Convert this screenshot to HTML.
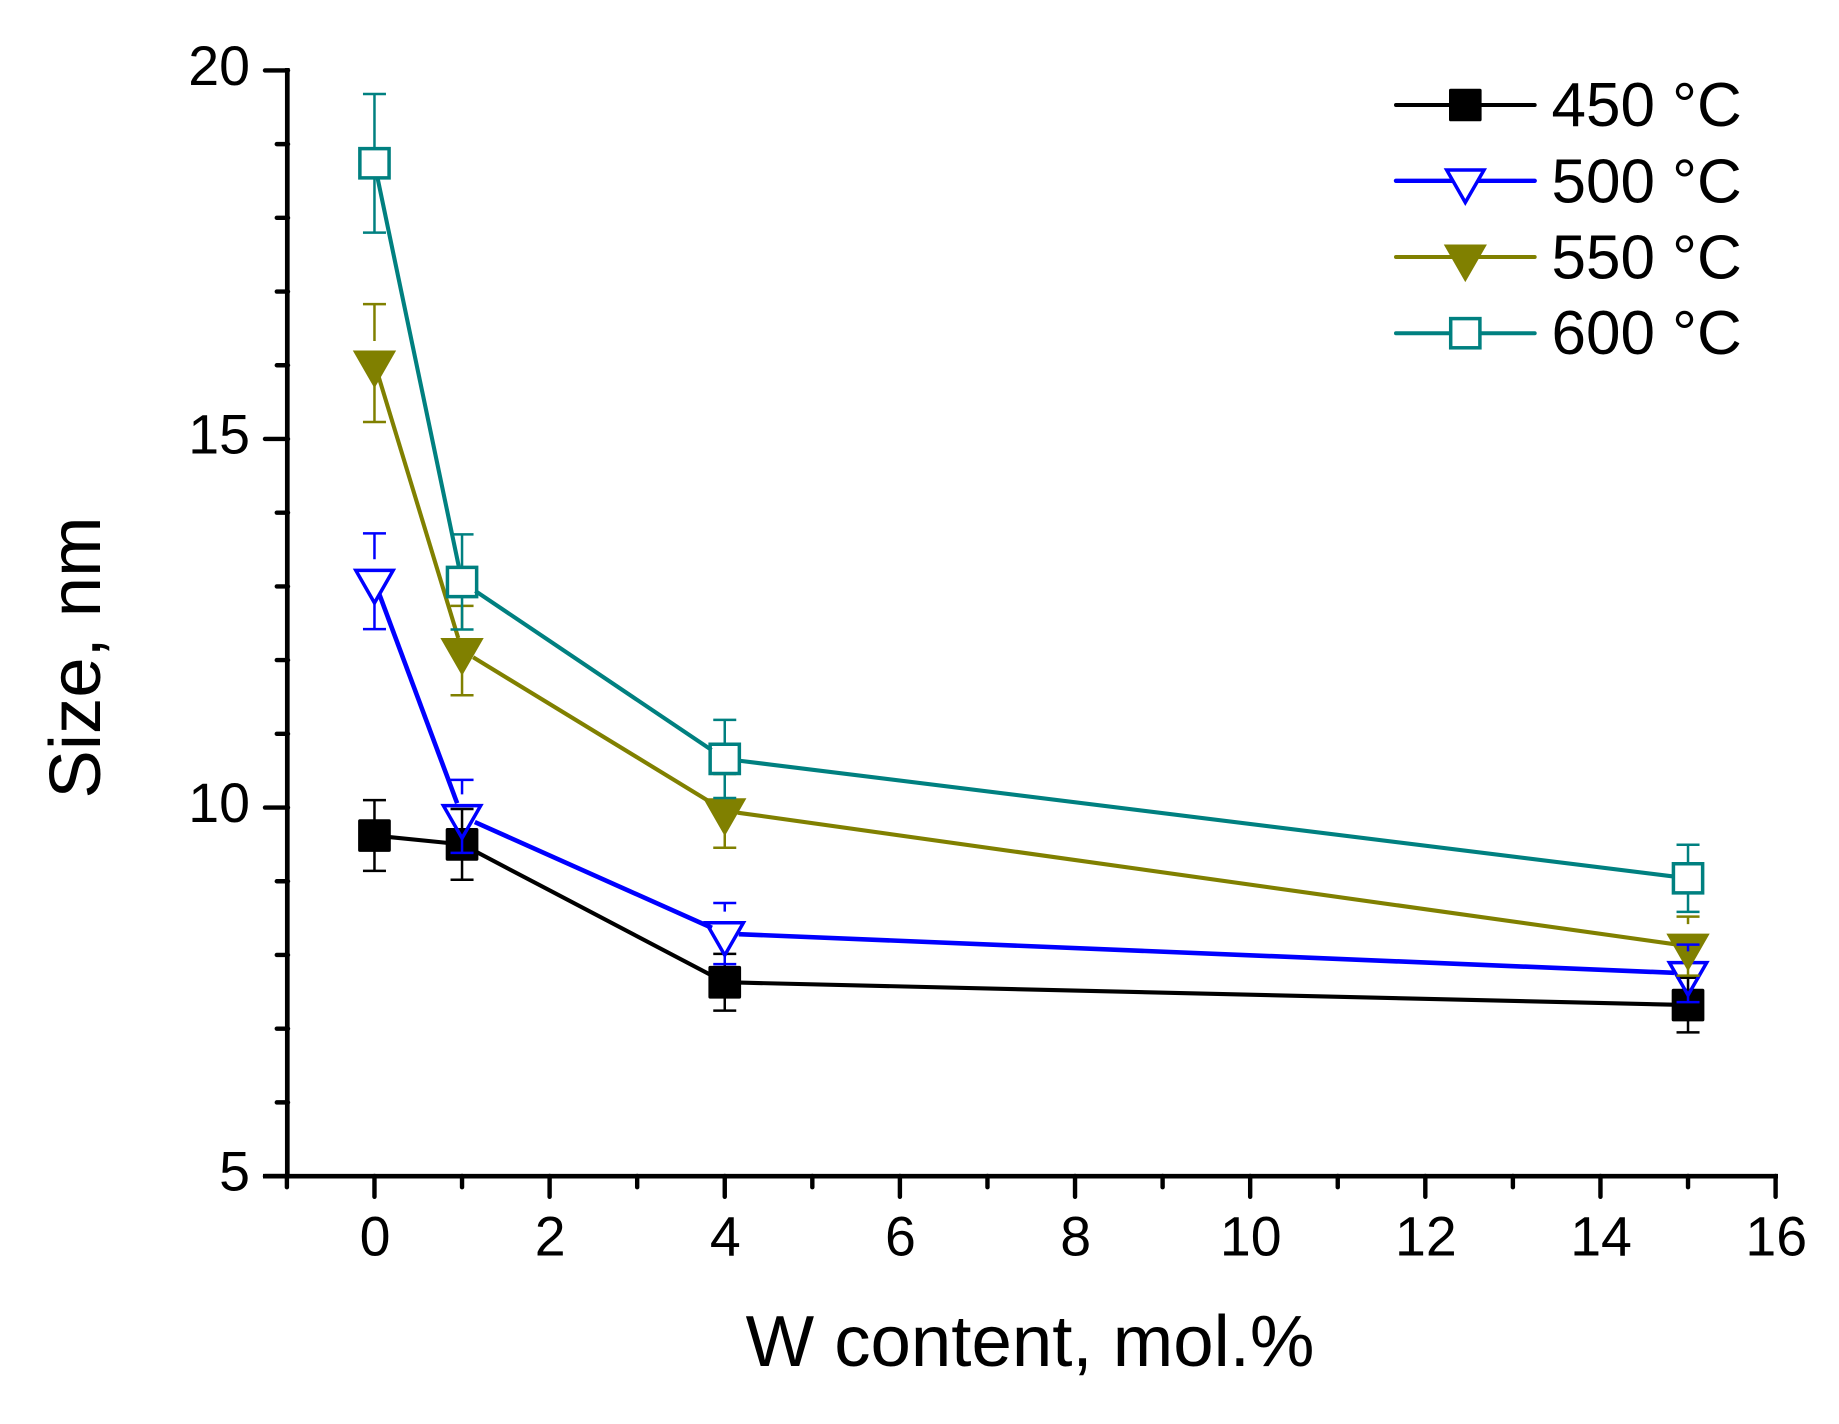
<!DOCTYPE html>
<html lang="en">
<head>
<meta charset="utf-8">
<title>Size vs W content</title>
<style>
html,body{margin:0;padding:0;background:#fff;width:1839px;height:1424px;overflow:hidden}
svg{display:block}
text{font-family:"Liberation Sans",Arial,sans-serif;fill:#000}
</style>
</head>
<body>
<svg id="chart" xmlns="http://www.w3.org/2000/svg" width="1839" height="1424" viewBox="0 0 1839 1424">
  <rect x="0" y="0" width="1839" height="1424" fill="#fff"/>
  <g id="series-layer"></g>
  <g id="overlay-layer"></g>
  <g id="axes-layer"></g>
  <text transform="translate(100,657.5) rotate(-90)" font-size="72.5" text-anchor="middle">Size, nm</text>
  <text x="1030" y="1366" font-size="72.6" text-anchor="middle">W content, mol.%</text>
  <g>
    <g>
      <line x1="1396" x2="1534.7" y1="105" y2="105" stroke="#000" stroke-width="4" stroke-linecap="round"/>
      <rect x="1450.7" y="90.4" width="29.2" height="29.2" fill="#000" stroke="#000" stroke-width="3.4" stroke-linejoin="round"/>
      <text x="1551.5" y="126" font-size="62">450 °C</text>
    </g>
    <g>
      <line x1="1396" x2="1534.7" y1="180.8" y2="180.8" stroke="#00f" stroke-width="4.4" stroke-linecap="round"/>
      <path d="M1446.7 170 L1484 170 L1465.3 202.5 Z" fill="#fff" stroke="#00f" stroke-width="3.5"/>
      <text x="1551.5" y="202.5" font-size="62">500 °C</text>
    </g>
    <g>
      <line x1="1396" x2="1534.7" y1="257" y2="257" stroke="#808000" stroke-width="4" stroke-linecap="round"/>
      <path d="M1446.7 246.2 L1484 246.2 L1465.3 278.7 Z" fill="#808000" stroke="#808000" stroke-width="3.4"/>
      <text x="1551.5" y="278.4" font-size="62">550 °C</text>
    </g>
    <g>
      <line x1="1396" x2="1534.7" y1="333.2" y2="333.2" stroke="#008080" stroke-width="4" stroke-linecap="round"/>
      <rect x="1450.7" y="318.6" width="29.2" height="29.2" fill="#fff" stroke="#008080" stroke-width="3.5"/>
      <text x="1551.5" y="354.2" font-size="62">600 °C</text>
    </g>
  </g>
</svg>
<script>
const xValues = [0, 1, 4, 15];
const size450 = [9.62, 9.50, 7.63, 7.32];
const err450 = [0.48, 0.48, 0.385, 0.37];
const size500 = [13.07, 9.88, 8.29, 7.75];
const err500 = [0.65, 0.495, 0.415, 0.39];
const size550 = [16.03, 12.13, 9.955, 8.12];
const err550 = [0.80, 0.606, 0.50, 0.40];
const size600 = [18.74, 13.06, 10.66, 9.04];
const err600 = [0.94, 0.645, 0.53, 0.455];
const xMajorTicks = [0, 2, 4, 6, 8, 10, 12, 14, 16];
const xMinorTicks = [-1, 1, 3, 5, 7, 9, 11, 13, 15];
const yMajorTicks = [5, 10, 15, 20];
const yMinorTicks = [6, 7, 8, 9, 11, 12, 13, 14, 16, 17, 18, 19];

const NS = 'http://www.w3.org/2000/svg';
const xScale = v => 286.9 + (v - (-1)) * (1775.6 - 286.9) / 17;
const yScale = v => 1176.1 - (v - 5) * (1176.1 - 70.4) / 15;
const seriesLayer = document.getElementById('series-layer');
const overlayLayer = document.getElementById('overlay-layer');
const axesLayer = document.getElementById('axes-layer');

function make(tag, attrs, parent) {
  const el = document.createElementNS(NS, tag);
  for (const k in attrs) el.setAttribute(k, attrs[k]);
  parent.appendChild(el);
  return el;
}

function markerPath(kind, cx, cy) {
  if (kind === 'square') {
    return 'M' + (cx - 14.6) + ' ' + (cy - 14.6) + 'H' + (cx + 14.6) + 'V' + (cy + 14.6) + 'H' + (cx - 14.6) + 'Z';
  }
  return 'M' + (cx - 18.65) + ' ' + (cy - 10.8) + 'L' + (cx + 18.65) + ' ' + (cy - 10.8) + 'L' + cx + ' ' + (cy + 21.7) + 'Z';
}

function drawErrorBars(parent, values, errors, color, kind, key) {
  const gap = kind === 'square' ? 15 : 22;
  xValues.forEach((xv, i) => {
    const cx = xScale(xv);
    const cy = yScale(values[i]);
    const top = yScale(values[i] + errors[i]);
    const bottom = yScale(values[i] - errors[i]);
    const bar = make('path', {
      d: 'M' + (cx - 11.5) + ' ' + top + 'H' + (cx + 11.5) + 'M' + cx + ' ' + top + 'V' + (cy - gap) +
         'M' + cx + ' ' + (cy + gap) + 'V' + bottom + 'M' + (cx - 11.5) + ' ' + bottom + 'H' + (cx + 11.5),
      fill: 'none', stroke: color, 'stroke-width': 2.5
    }, parent);
    
    
  });
}

function drawSeries(values, errors, color, kind, filled, trim, width, key, deferBars) {
  const group = make('g', {}, seriesLayer);
  
  
  for (let i = 0; i < xValues.length - 1; i++) {
    const x1 = xScale(xValues[i]), y1 = yScale(values[i]);
    const x2 = xScale(xValues[i + 1]), y2 = yScale(values[i + 1]);
    const len = Math.hypot(x2 - x1, y2 - y1);
    const ux = (x2 - x1) / len, uy = (y2 - y1) / len;
    const seg = make('line', {
      x1: x1 + ux * trim, y1: y1 + uy * trim, x2: x2 - ux * trim, y2: y2 - uy * trim,
      stroke: color, 'stroke-width': width
    }, group);
    
    
  }
  if (deferBars) {
    drawErrorBars(overlayLayer, values, errors, color, kind, key);
  } else {
    drawErrorBars(group, values, errors, color, kind, key);
  }
  xValues.forEach((xv, i) => {
    const m = make('path', {
      d: markerPath(kind, xScale(xv), yScale(values[i])),
      fill: filled ? color : 'none',
      stroke: color,
      'stroke-width': 3.5,
      'stroke-linejoin': color === '#000000' ? 'round' : 'miter'
    }, group);
    
    
  });
}

drawSeries(size450, err450, '#000000', 'square', true, 15, 4.1, '450c', false);
drawSeries(size500, err500, '#0000ff', 'triangle', false, 14, 4.6, '500c', true);
drawSeries(size550, err550, '#808000', 'triangle', true, 13, 4.1, '550c', false);
drawSeries(size600, err600, '#008080', 'square', false, 16, 4.1, '600c', false);

const yAxisLine = make('line', { x1: 287.3, x2: 287.3, y1: 68, y2: 1178.5, stroke: '#000', 'stroke-width': 4.7 }, axesLayer);


const xAxisLine = make('line', { x1: 263, x2: 1778, y1: 1176.2, y2: 1176.2, stroke: '#000', 'stroke-width': 4.7 }, axesLayer);



yMajorTicks.forEach(v => {
  const t = make('line', { x1: 265, x2: 288, y1: yScale(v), y2: yScale(v), stroke: '#000', 'stroke-width': 4.4, 'stroke-linecap': 'round' }, axesLayer);
  
  
  const label = make('text', { x: 250, y: yScale(v) + 14.6, 'font-size': 55.5, 'text-anchor': 'end' }, axesLayer);
  label.textContent = String(v);
  
  
});
yMinorTicks.forEach(v => {
  const t = make('line', { x1: 276.8, x2: 288, y1: yScale(v), y2: yScale(v), stroke: '#000', 'stroke-width': 4.4, 'stroke-linecap': 'round' }, axesLayer);
  
  
});
xMajorTicks.forEach(v => {
  const t = make('line', { x1: xScale(v), x2: xScale(v), y1: 1176, y2: 1196.8, stroke: '#000', 'stroke-width': 4.4, 'stroke-linecap': 'round' }, axesLayer);
  
  
  const label = make('text', { x: xScale(v) + 0.6, y: 1255.6, 'font-size': 55.5, 'text-anchor': 'middle' }, axesLayer);
  label.textContent = String(v);
  
  
});
xMinorTicks.forEach(v => {
  const t = make('line', { x1: xScale(v), x2: xScale(v), y1: 1176, y2: 1187.2, stroke: '#000', 'stroke-width': 4.4, 'stroke-linecap': 'round' }, axesLayer);
  
  
});
</script>
</body>
</html>
